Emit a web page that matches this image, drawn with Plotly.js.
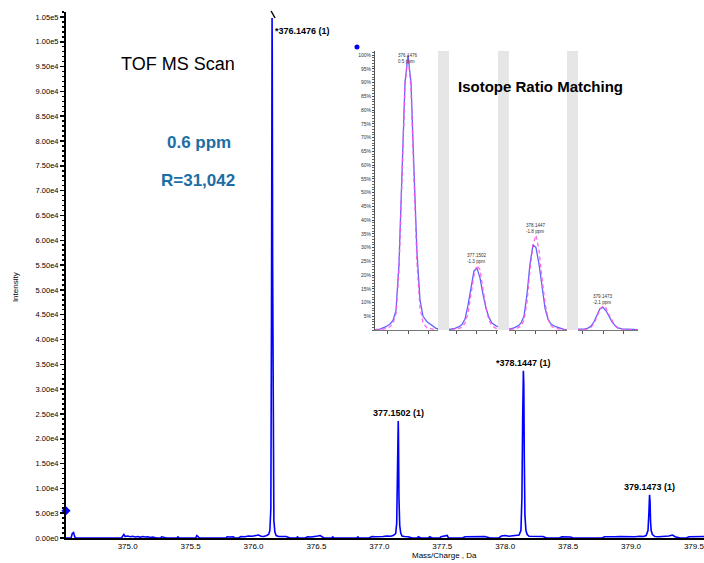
<!DOCTYPE html>
<html><head><meta charset="utf-8">
<script src="https://cdn.plot.ly/plotly-3.0.1.min.js"></script>
<style>html,body{margin:0;padding:0;background:#fff}#chart{width:704px;height:563px}</style>
</head><body><div id="chart"></div>
<script>
// ---------- main TOF MS spectrum ----------
const specMz = [374.51,374.55,374.56,374.57,374.58,374.59,374.95,374.96,374.97,374.98,375.00,375.02,375.04,375.06,375.08,375.10,375.12,375.14,375.16,375.18,375.20,375.23,375.26,375.27,375.29,375.31,375.39,375.40,375.41,375.54,375.55,375.56,375.57,375.78,375.79,375.81,375.84,375.85,375.88,375.90,375.93,375.96,375.99,376.02,376.04,376.06,376.08,376.10,376.12,376.13,376.138,376.143,376.1465,376.1476,376.149,376.152,376.156,376.162,376.17,376.18,376.20,376.23,376.26,376.29,376.34,376.35,376.36,376.41,376.43,376.46,376.49,376.51,376.53,376.55,376.56,376.62,376.63,376.64,376.82,376.83,376.84,376.92,376.94,376.97,377.00,377.03,377.06,377.09,377.11,377.13,377.138,377.144,377.148,377.1502,377.152,377.156,377.162,377.17,377.18,377.20,377.23,377.26,377.30,377.31,377.33,377.39,377.40,377.42,377.48,377.49,377.51,377.54,377.55,377.66,377.68,377.72,377.76,377.80,377.84,377.88,377.95,377.97,378.00,378.03,378.06,378.09,378.11,378.125,378.133,378.139,378.1447,378.148,378.152,378.157,378.165,378.175,378.19,378.22,378.26,378.30,378.33,378.43,378.45,378.49,378.52,378.54,378.77,378.79,378.83,378.87,378.91,378.95,378.99,379.03,379.07,379.10,379.12,379.135,379.142,379.1473,379.151,379.155,379.16,379.17,379.19,379.22,379.26,379.30,379.33,379.35,379.39,379.44,379.46,379.50,379.54,379.58];
const specInt = [0,0,900,1100,200,0,0,500,700,300,400,250,350,200,300,150,300,200,250,100,200,0,0,250,200,0,0,250,0,0,500,150,0,0,250,200,250,0,0,300,250,400,350,500,600,350,300,450,700,1500,6000,45000,100000,104800,98000,55000,12000,3500,1200,500,300,250,300,0,0,250,0,0,250,200,250,400,500,200,0,0,250,0,0,250,0,0,300,250,350,300,400,350,500,900,3000,14000,22500,23600,21000,8000,2500,1000,400,300,250,0,0,250,0,0,250,0,0,250,300,500,0,0,250,250,300,200,300,0,0,400,500,350,450,400,600,1500,8000,24000,33700,31000,16000,4500,1500,700,350,300,250,300,0,0,250,250,200,0,0,250,200,250,300,250,300,250,350,300,500,1500,5000,8700,7500,3500,1500,700,300,250,300,400,600,250,0,0,250,300,250,300];

const peakMz = [376.1476, 377.1502, 378.1447, 379.1473];
const peakInt = [104800, 23600, 33700, 8700];
const peakLabels = ['*376.1476 (1)', '377.1502 (1)', '*378.1447 (1)', '379.1473 (1)'];
const thresholdInt = 5500;

const yTickVals = [0,5000,10000,15000,20000,25000,30000,35000,40000,45000,50000,55000,60000,65000,70000,75000,80000,85000,90000,95000,100000,105000];
const yTickText = ['0.00e0','5.00e3','1.00e4','1.50e4','2.00e4','2.50e4','3.00e4','3.50e4','4.00e4','4.50e4','5.00e4','5.50e4','6.00e4','6.50e4','7.00e4','7.50e4','8.00e4','8.50e4','9.00e4','9.50e4','1.00e5','1.05e5'];
const xTickVals = [375.0,375.5,376.0,376.5,377.0,377.5,378.0,378.5,379.0,379.5];
const xTickText = ['375.0','375.5','376.0','376.5','377.0','377.5','378.0','378.5','379.0','379.5'];

// ---------- inset: isotope ratio matching (% of base peak) ----------
const isoMz = [376.1476, 377.1502, 378.1447, 379.1473];
const isoOffsetDa = [-0.040,-0.028,-0.022,-0.018,-0.015,-0.012,-0.009,-0.006,-0.003,0,0.003,0.006,0.009,0.012,0.015,0.019,0.024,0.028,0.040];
const isoMeasured = [
  [0,0.3,1.2,2.2,3.5,7,24,58,90,100,90,58,28,11,5,3,1.8,0.6,0],
  [0,0.2,0.6,1.2,2,4,9,16,21.5,22.5,19,13,8,4.5,2.5,1.5,0.8,0.3,0],
  [0,0.2,0.8,1.5,2.5,5,13,24,31,30,24,15,8,4,2.2,1.3,0.6,0.2,0],
  [0,0.1,0.2,0.4,0.7,1.4,3,5.5,7.8,8.2,7,5,3,1.6,0.8,0.4,0.2,0.1,0]
];
const isoTheory = [
  [0,0.1,0.5,1.2,2.4,6,22,56,89,100,88,55,24,8,2.5,0.8,0.3,0.1,0],
  [0,0.1,0.3,0.6,1,2.5,6,13,20,23.5,22,15,8,3.5,1.5,0.6,0.2,0.1,0],
  [0,0.1,0.3,0.8,1.5,3.5,10,22,31,34.5,29,19,10,4,1.5,0.6,0.2,0.1,0],
  [0,0,0.1,0.2,0.4,1,2.3,4.8,7.5,8.8,8,5.5,3.2,1.5,0.6,0.2,0.1,0,0]
];
const isoLabels = ['376.1476<br>0.5 ppm','377.1502<br>-1.3 ppm','378.1447<br>-1.8 ppm','379.1473<br>-2.1 ppm'];
const pctVals = [5,10,15,20,25,30,35,40,45,50,55,60,65,70,75,80,85,90,95,100];
const pctText = ['5%','10%','15%','20%','25%','30%','35%','40%','45%','50%','55%','60%','65%','70%','75%','80%','85%','90%','95%','100%'];

// ---------- build ----------
const FONT = 'Liberation Sans, Arial, sans-serif';
const traces = [];
traces.push({x: specMz, y: specInt, type: 'scatter', mode: 'lines',
  line: {color: '#0000ff', width: 1.6}, hoverinfo: 'skip', xaxis: 'x', yaxis: 'y'});
traces.push({x: [374.51], y: [thresholdInt], type: 'scatter', mode: 'markers', cliponaxis: false,
  marker: {symbol: 'diamond', size: 7, color: '#0000ff'}, xaxis: 'x', yaxis: 'y'});

const segAxes = ['x2','x3','x4','x5'];
for (let i = 0; i < isoMz.length; i++) {
  const xs = isoOffsetDa.map(d => isoMz[i] + d);
  traces.push({x: xs, y: isoMeasured[i], type: 'scatter', mode: 'lines',
    line: {color: 'rgba(70,70,255,0.85)', width: 1.3}, xaxis: segAxes[i], yaxis: 'y2'});
  traces.push({x: xs, y: isoTheory[i], type: 'scatter', mode: 'lines',
    line: {color: 'rgba(255,80,230,0.85)', width: 1.3, dash: '4px,3px'}, xaxis: segAxes[i], yaxis: 'y2'});
}

const annotations = [];
for (let i = 0; i < peakMz.length; i++) {
  if (i === 0) {
    annotations.push({x: peakMz[i], y: peakInt[i], xref: 'x', yref: 'y', text: peakLabels[i],
      showarrow: false, xanchor: 'left', yanchor: 'top', xshift: 1, yshift: -6,
      font: {family: FONT, size: 9, color: '#000', weight: 'bold'}});
  } else {
    annotations.push({x: peakMz[i], y: peakInt[i], xref: 'x', yref: 'y', text: peakLabels[i],
      showarrow: false, xanchor: 'center', yanchor: 'bottom', yshift: 1,
      font: {family: FONT, size: 9, color: '#000', weight: 'bold'}});
  }
}
for (let i = 0; i < isoMz.length; i++) {
  const top = Math.max(...isoMeasured[i], ...isoTheory[i]);
  const big = top > 90;
  annotations.push({x: isoMz[i], y: big ? 101.5 : top, xref: segAxes[i], yref: 'y2', text: isoLabels[i],
    showarrow: false, xanchor: 'center', yanchor: big ? 'top' : 'bottom', align: 'left', yshift: big ? 0 : -1,
    font: {family: FONT, size: 4.6, color: '#333'}});
}
const paperText = (x, y, text, font, extra) => Object.assign({xref:'paper', yref:'paper', x, y, text,
  showarrow:false, xanchor:'center', yanchor:'middle', font}, extra || {});
annotations.push(
  paperText(0.1755, 0.901, 'TOF MS Scan', {family:FONT, size:18, color:'#000'}),
  paperText(0.2085, 0.751, '0.6 ppm', {family:FONT, size:17, color:'#1c6ea4', weight:'bold'}),
  paperText(0.207, 0.679, 'R=31,042', {family:FONT, size:17, color:'#1c6ea4', weight:'bold'}),
  paperText(0.743, 0.859, 'Isotope Ratio Matching', {family:FONT, size:15, color:'#000', weight:'bold'}),
  paperText(0.594, -0.0325, 'Mass/Charge , Da', {family:FONT, size:8, color:'#000'}),
  paperText(-0.0799, 0.477, 'Intensity', {family:FONT, size:8, color:'#000'}, {textangle:-90})
);

const insetY = [0.3954, 0.9259];
const segDomains = [[0.4843,0.5831],[0.6003,0.6771],[0.6943,0.7853],[0.8025,0.8966]];
const segWindows = [[-0.033,0.030],[-0.028,0.021],[-0.027,0.031],[-0.025,0.035]];

const shapes = [];
for (let i = 0; i < 3; i++) {
  shapes.push({type:'rect', xref:'paper', yref:'paper', x0: segDomains[i][1], x1: segDomains[i+1][0],
    y0: insetY[0], y1: insetY[1], fillcolor:'#e6e6e6', line:{width:0}, layer:'below'});
}
shapes.push({type:'circle', xref:'paper', yref:'paper', xsizemode:'pixel', ysizemode:'pixel',
  xanchor: 0.4561, yanchor: 0.9335, x0:-2.5, x1:2.5, y0:-2.5, y1:2.5, fillcolor:'#0000ff', line:{width:0}});
shapes.push({type:'line', xref:'x', yref:'paper', xsizemode:'pixel', ysizemode:'pixel',
  xanchor: peakMz[0], yanchor: 1, x0:-1, x1:3, y0:1, y1:-6, line:{color:'#000', width:1.5}});

const layout = {
  width: 704, height: 563,
  margin: {l: 66, r: 0, t: 12, b: 25},
  paper_bgcolor: '#fff', plot_bgcolor: 'rgba(0,0,0,0)',
  showlegend: false,
  font: {family: FONT, size: 8, color: '#000'},
  xaxis: {domain: [0,1], range: [374.51, 379.58], tickvals: xTickVals, ticktext: xTickText,
    showline: true, linecolor: '#000', linewidth: 1.5, ticks: '', ticklabelstandoff: 0,
    ticklabeloverflow: 'allow',
    showgrid: false, zeroline: false, tickfont: {family: FONT, size: 8}, automargin: false},
  yaxis: {domain: [0,1], range: [0, 106000], tickvals: yTickVals, ticktext: yTickText,
    showline: true, linecolor: '#000', linewidth: 2, ticks: 'outside', ticklen: 4, tickwidth: 1.5, tickcolor: '#000',
    showgrid: false, zeroline: false, tickfont: {family: FONT, size: 7.5}, automargin: false,
    minor: {dtick: 1000, ticks: 'outside', ticklen: 2, tickcolor: '#000'}},
  yaxis2: {domain: insetY, range: [0, 101.5], anchor: 'x2', tickvals: pctVals, ticktext: pctText,
    showline: true, linecolor: '#555', linewidth: 1, ticks: 'outside', ticklen: 2, tickcolor: '#444',
    showgrid: false, zeroline: false, tickfont: {family: FONT, size: 5, color: '#333'}, automargin: false,
    minor: {dtick: 1, ticks: 'outside', ticklen: 1.5, tickcolor: '#666'}},
  annotations: annotations,
  shapes: shapes
};
segAxes.forEach((ax, i) => {
  const key = 'xaxis' + ax.slice(1);
  layout[key] = {domain: segDomains[i], anchor: 'y2',
    range: [isoMz[i] + segWindows[i][0], isoMz[i] + segWindows[i][1]],
    showline: true, linecolor: '#777', linewidth: 1, ticks: 'outside', ticklen: 3, tickcolor: '#555',
    dtick: 0.02, tick0: isoMz[i], showticklabels: false, showgrid: false, zeroline: false, automargin: false};
});

Plotly.newPlot('chart', traces, layout, {staticPlot: true, displayModeBar: false});
</script>
</body></html>
